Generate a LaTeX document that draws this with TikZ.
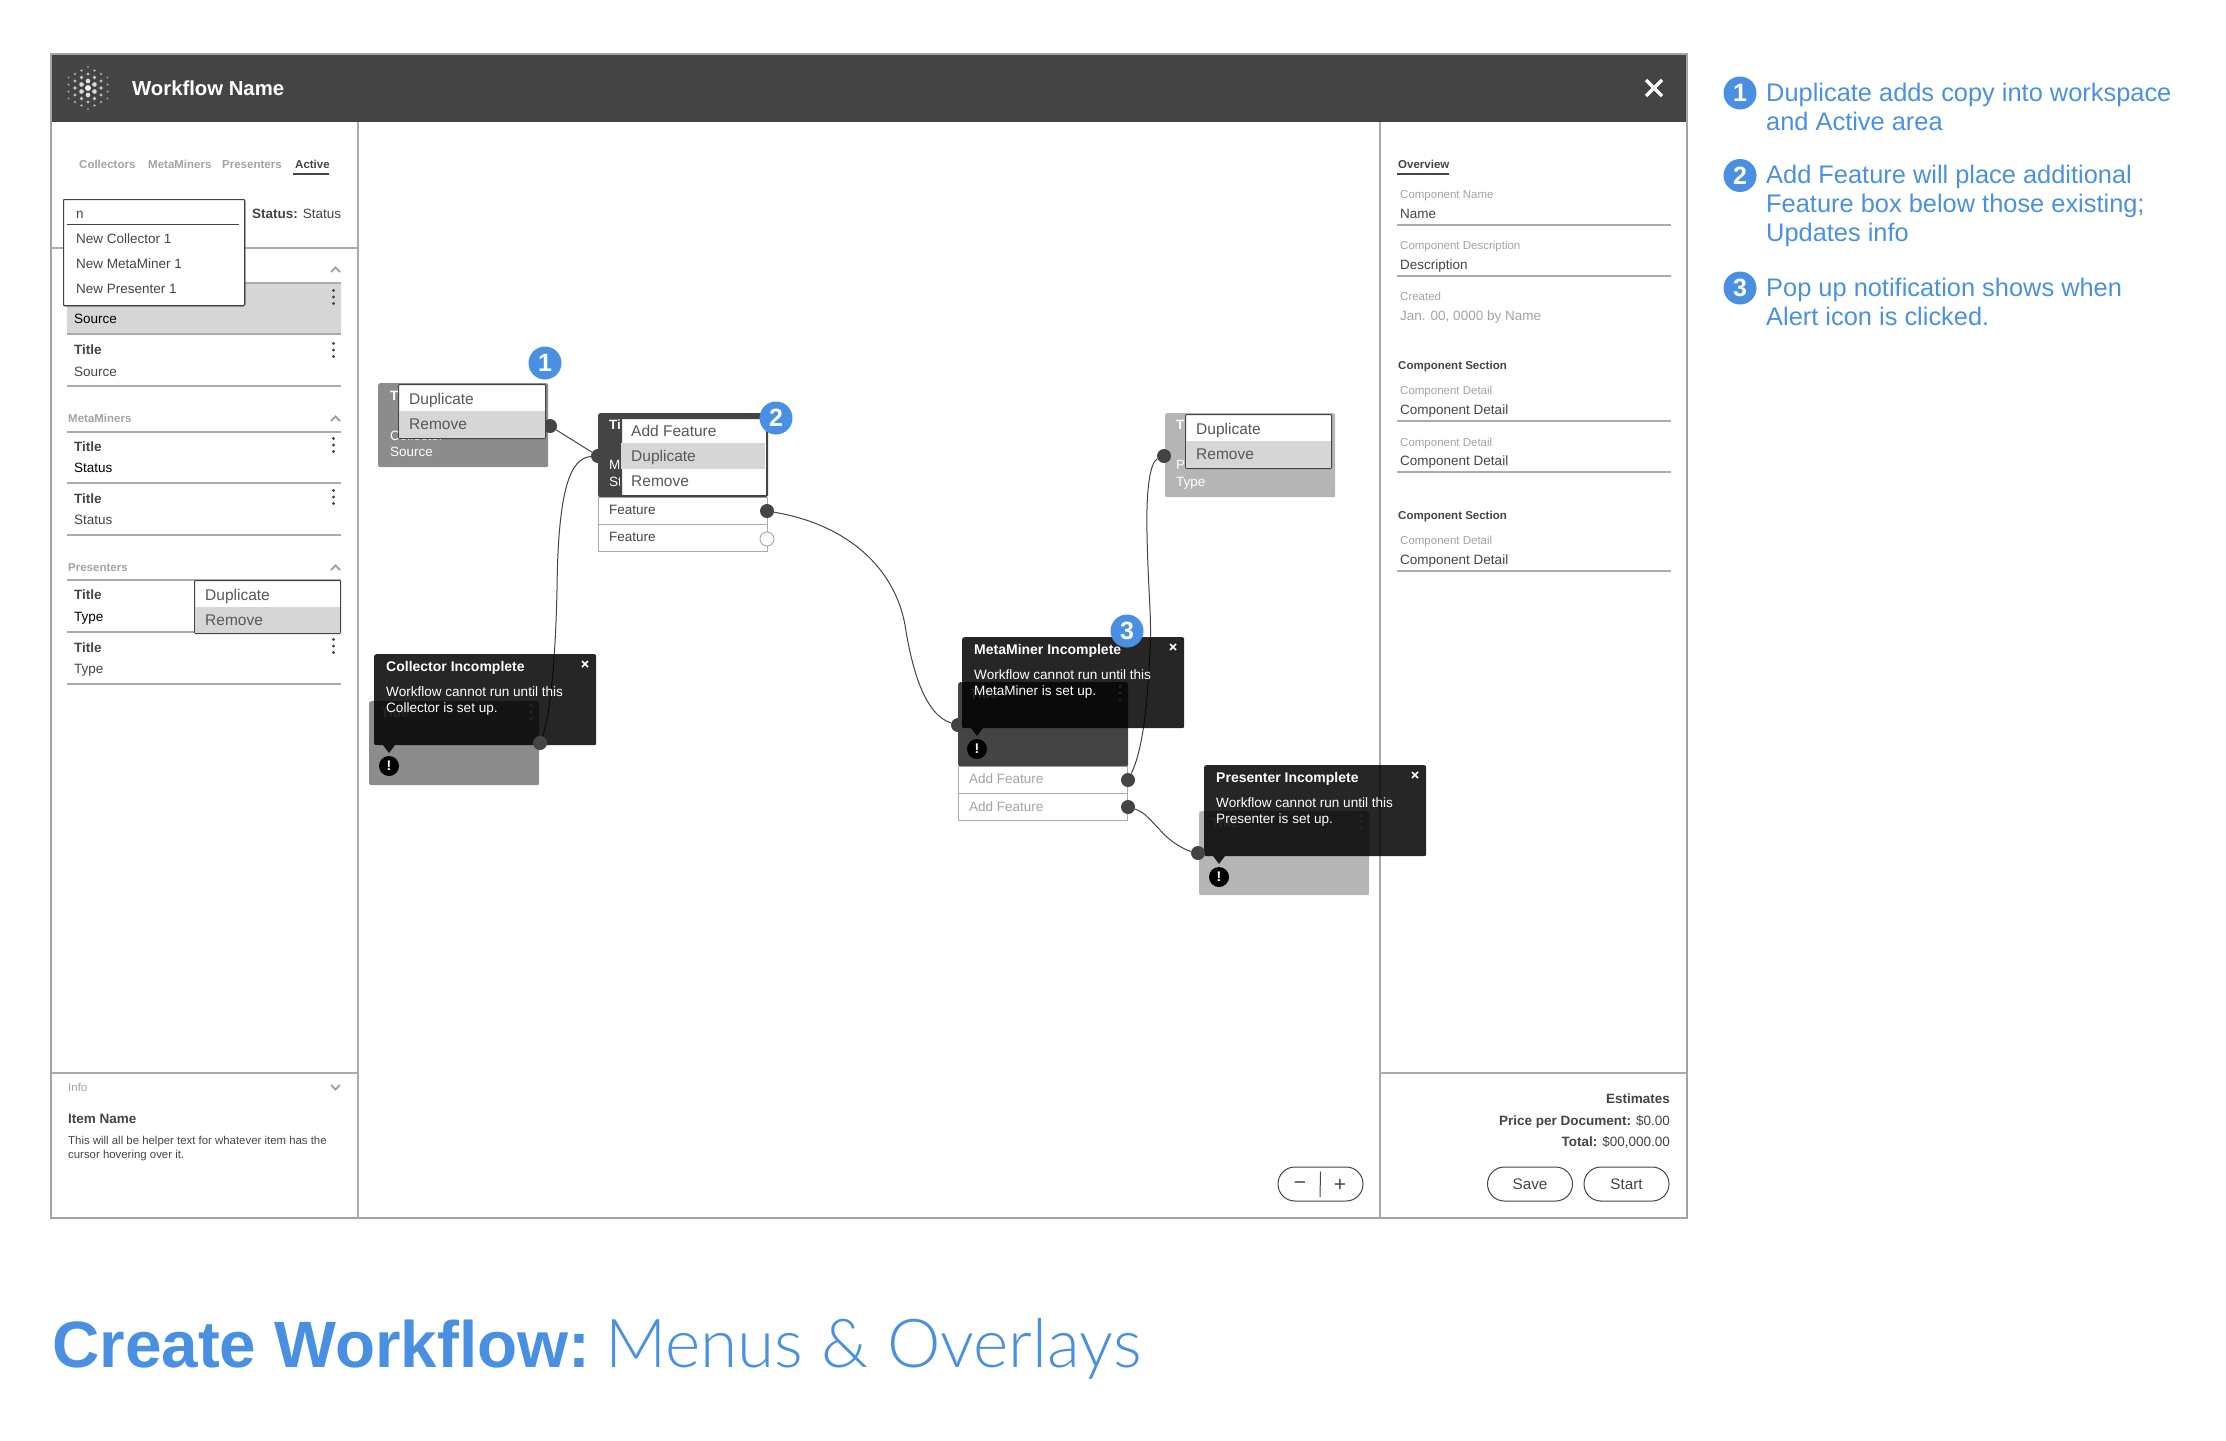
\documentclass[tikz,border=0pt]{standalone}
\usepackage{fontspec}
\setmainfont{Liberation Sans}
\newfontfamily\lightfont{Lato Light}
\definecolor{ink}{HTML}{444444}
\definecolor{mute}{HTML}{A3A3A3}
\definecolor{rule}{HTML}{ABABAB}
\definecolor{band}{HTML}{D6D6D6}
\definecolor{accent}{HTML}{4A90E2}
\definecolor{midbox}{HTML}{8C8C8C}
\definecolor{palebox}{HTML}{B5B5B5}
\pgfdeclarelayer{wires}
\pgfsetlayers{wires,main}
\newcommand{\fs}[1]{\fontsize{#1}{#1}\selectfont}
\newcommand{\kebab}[2]{\foreach \d in {-6.5,0,6.5} \fill[#2] (#1) ++(0pt,\d pt) circle (1.7pt);}
\tikzset{
    lbl/.style={anchor=mid west,inner sep=0pt,yshift=-2.3pt,text=ink,font=\fs{13.5}},
    lblb/.style={lbl,font=\fs{13.5}\bfseries},
    small/.style={lbl,text=mute,font=\fs{11.5}},
    smallb/.style={small,font=\fs{11.5}\bfseries},
    menuitem/.style={lbl,yshift=-0.8pt,text=ink!90,font=\fs{15.5}},
    menubox/.style={draw=ink,line width=1pt,fill=white,anchor=north west,rounded corners=1pt,inner sep=0pt,minimum width=146pt},
    wfbox/.style={anchor=north west,inner sep=0pt,rounded corners=2pt,minimum width=170pt,minimum height=84pt},
    rowbox/.style={draw=rule,line width=1.3pt,fill=white,anchor=north west,inner sep=0pt,minimum width=169pt,minimum height=27pt},
    port/.style={circle,fill=ink,inner sep=0pt,minimum size=14pt},
    wire/.style={draw=ink,line width=1pt},
    sep/.style={draw=rule,line width=1.4pt},
    chevron/.style={draw=mute,line width=1.8pt},
    badge/.style={circle,fill=accent,text=white,inner sep=0pt,minimum size=33pt,font=\fs{25}\bfseries},
    popbox/.style={anchor=north west,fill=black,fill opacity=.85,inner sep=0pt,rounded corners=2pt,minimum width=222pt,minimum height=91pt},
    alert/.style={circle,fill=black,text=white,inner sep=0pt,minimum size=20pt,font=\fs{14}\bfseries},
    pill/.style={draw=ink,line width=1pt,rounded corners=16.9pt,inner sep=0pt,minimum height=34pt,text=ink,font=\fs{15.3}},
    note/.style={anchor=north west,align=left,inner sep=0pt,text=accent,font=\fontsize{25.4}{29}\selectfont},
}
\begin{document}
\begin{tikzpicture}[x=1pt,y=-1pt]
    \useasboundingbox (0,0) rectangle (2226,1440);
    % window
    \fill[ink] (51,54) rectangle (1687,122);
    \draw[draw=mute,line width=2.5pt] (51,54) rectangle (1687,1218);
    \draw[sep] (358,122) -- (358,1218);
    \draw[sep] (1380,122) -- (1380,1218);
    \draw[sep] (51,248) -- (358,248);
    \draw[sep] (51,1073) -- (358,1073);
    \draw[sep] (1380,1073) -- (1687,1073);
    % logo
    \foreach \i in {-3,...,3}
        \foreach \j in {-3,...,3} {
            \pgfmathsetmacro{\lx}{6.5*\i}
            \pgfmathsetmacro{\ly}{7*\j+3.5*mod(abs(\i),2)}
            \pgfmathsetmacro{\ld}{sqrt(\lx*\lx+\ly*\ly)}
            \pgfmathsetmacro{\lr}{max(0.9,2.9-\ld/12)}
            \pgfmathsetmacro{\lo}{max(0.35,1-\ld/40)}
            \ifdim\ld pt<24.5pt
                \fill[white,opacity=\lo] (88+\lx,88+\ly) circle (\lr pt);
            \fi
        }
    \node[anchor=mid west,inner sep=0pt,yshift=-4.4pt,text=white,font=\fs{20.3}\bfseries] (wfname) at (132,88) {Workflow Name};
    \draw[white,line width=3.4pt] (1646,80) -- (1662,96) (1662,80) -- (1646,96);
    % left panel
    \foreach \nm/\tx/\ty in {Collectors/79/164, MetaMiners/148/164, Presenters/222/164}
        \node[smallb] (tab\nm) at (\tx,\ty) {\nm};
    \node[smallb,text=ink] (tabActive) at (295,164) {Active};
    \draw[draw=ink,line width=1.3pt] (293,174) -- (329,174);
    \node[lbl] (status) at (252,214) {\textbf{Status:} Status};
    \fill[band] (67,283) rectangle (341,334);
    \foreach \ry in {283,334,386,432,483,535,580,632,684}
        \draw[sep] (67,\ry) -- (341,\ry);
    \foreach \nm/\ttl/\sub/\ty/\sy/\sc in {srcB/Title/Source/350/372/ink, metaA/Title/Status/447/468/black, metaB/Title/Status/499/520/ink, presA/Title/Type/595/617/black, presB/Title/Type/648/669/ink} {
        \node[lblb] (\nm t) at (74,\ty) {\ttl};
        \node[lbl,text=\sc] (\nm s) at (74,\sy) {\sub};
    }
    \node[lbl,text=black] (srcAs) at (74,319) {Source};
    \node[smallb] (metaHead) at (68,418) {MetaMiners};
    \node[smallb] (presHead) at (68,567) {Presenters};
    \foreach \cy in {269,418,567}
        \draw[chevron] (331,\cy+3) -- (335.5,\cy-1.5) -- (340,\cy+3);
    \foreach \ky in {297,350,445,497,646}
        \kebab{333.5,\ky}{ink}
    % search menu
    \node[menubox,minimum width=181pt,minimum height=106pt] (search) at (63,199) {};
    \draw[draw=ink,line width=1pt] (67,224) -- (239,224);
    \node[lbl] (query) at (76,214) {n};
    \foreach \nm/\ty/\txt in {sa/239/New Collector 1, sb/264/New MetaMiner 1, sc/289/New Presenter 1}
        \node[lbl] (\nm) at (76,\ty) {\txt};
    % presenter item menu
    \node[menubox,minimum height=53pt] (menuSide) at (194,580) {};
    \fill[band] (194.5,607) rectangle (339.5,632.5);
    \node[menuitem] (sideDup) at (205,595) {Duplicate};
    \node[menuitem] (sideRem) at (205,620) {Remove};
    % info
    \node[small] (info) at (68,1087) {Info};
    \draw[chevron] (331,1085) -- (335.5,1089.5) -- (340,1085);
    \node[lblb] (itemName) at (68,1119) {Item Name};
    \node[anchor=north west,align=left,inner sep=0pt,text=ink,font=\fontsize{11.4}{14}\selectfont] (helper) at (68,1136) {This will all be helper text for whatever item has the\\cursor hovering over it.};
    % right panel
    \node[smallb,text=ink] (overview) at (1398,164) {Overview};
    \draw[draw=ink,line width=1.3pt] (1397,174) -- (1449,174);
    \foreach \nm/\lab/\val/\ly/\vy/\ry in {fa/Component Name/Name/194/213.5/225, fb/Component Description/Description/245/265/276, fc/Component Detail/Component Detail/390/410/421, fd/Component Detail/Component Detail/442/461/472, fe/Component Detail/Component Detail/540/560/571} {
        \node[small] (\nm l) at (1400,\ly) {\lab};
        \node[lbl] (\nm v) at (1400,\vy) {\val};
        \draw[sep] (1397,\ry) -- (1671,\ry);
    }
    \node[small] (created) at (1400,296) {Created};
    \node[lbl,text=mute] (createdBy) at (1400,316) {Jan. 00, 0000 by Name};
    \node[smallb,text=ink] (secA) at (1398,365) {Component Section};
    \node[smallb,text=ink] (secB) at (1398,515) {Component Section};
    \node[lblb,anchor=mid east] (estimates) at (1670,1099) {Estimates};
    \node[lbl,anchor=mid east] (price) at (1670,1121) {\textbf{Price per Document:} \$0.00};
    \node[lbl,anchor=mid east] (total) at (1670,1142) {\textbf{Total:} \$00,000.00};
    \node[pill,minimum width=85pt] (save) at (1530,1184) {Save};
    \node[pill,minimum width=85pt] (start) at (1626.5,1184) {Start};
    \node[pill,minimum width=85pt] (zoom) at (1320.5,1184) {};
    \draw[draw=ink,line width=1pt] (zoom.north) ++(0,5) -- (1320,1197);
    \node[lbl,anchor=center,yshift=1pt,font=\fs{21}] (minus) at (1300,1184) {−};
    \node[lbl,anchor=center,yshift=1pt,font=\fs{21}] (plus) at (1340,1184) {+};
    % workflow nodes
    \node[wfbox,fill=midbox] (collA) at (378,383) {};
    \node[wfbox,fill=ink,minimum width=169pt] (metaA) at (598,413) {};
    \node[wfbox,fill=palebox] (presA) at (1165,413) {};
    \foreach \nm/\tx/\ty/\ttl/\kind/\sub/\ky/\sy in {collA/390/396/Title/Collector/Source/436/452, metaA/609/425/Title/MetaMiner/Status/465/482, presA/1176/425/Title/Presenter/Type/465/482} {
        \node[lblb,text=white] (\nm t) at (\tx,\ty) {\ttl};
        \node[lbl,text=white] (\nm k) at (\tx,\ky) {\kind};
        \node[lbl,text=white] (\nm s) at (\tx,\sy) {\sub};
    }
    \node[rowbox] (rowA) at (598,497) {};
    \node[rowbox] (rowB) at (598,524) {};
    \node[lbl] (rowAt) at (609,510) {Feature};
    \node[lbl] (rowBt) at (609,537) {Feature};
    \node[rowbox] (rowC) at (958,766) {};
    \node[rowbox] (rowD) at (958,793) {};
    \node[lbl,text=mute] (rowCt) at (969,779) {Add Feature};
    \node[lbl,text=mute] (rowDt) at (969,807) {Add Feature};
    % incomplete nodes
    \foreach \nm/\bx/\by/\bc in {collB/369/701/midbox, metaB/958/682/ink, presB/1199/811/palebox} {
        \node[wfbox,fill=\bc] (\nm) at (\bx,\by) {};
        \node[lblb,text=white] (\nm t) at (\bx+12,\by+12) {Title};
        \kebab{\bx+162,\by+11}{white}
    }
    % ports
    \node[port] (outA) at (550,426) {};
    \node[port] (inM) at (598,456) {};
    \node[port] (outF) at (767,511) {};
    \node[port,fill=white,draw=rule,line width=1pt] (outG) at (767,539) {};
    \node[port] (inMB) at (958,725) {};
    \node[port] (outC) at (1128,780) {};
    \node[port] (outD) at (1128,807) {};
    \node[port] (inP) at (1164,456) {};
    % item menus
    \node[menubox,minimum width=147pt,minimum height=54pt] (menuA) at (398,384) {};
    \fill[band] (398.5,411) rectangle (544.5,437.5);
    \node[menuitem] (menuAa) at (409,399) {Duplicate};
    \node[menuitem] (menuAb) at (409,424) {Remove};
    \node[menubox,draw=ink,line width=2pt,minimum width=146pt,minimum height=78pt] (menuB) at (620,417) {};
    \fill[band] (621,443) rectangle (765,469);
    \node[menuitem] (menuBa) at (631,431) {Add Feature};
    \node[menuitem] (menuBb) at (631,456) {Duplicate};
    \node[menuitem] (menuBc) at (631,481) {Remove};
    \node[menubox,minimum width=146pt,minimum height=54pt] (menuC) at (1185,414) {};
    \fill[band] (1185.5,441) rectangle (1330.5,467.5);
    \node[menuitem] (menuCa) at (1196,429) {Duplicate};
    \node[menuitem] (menuCb) at (1196,454) {Remove};
    % popups
    \foreach \nm/\px/\py/\kind in {coll/374/654/Collector, meta/962/637/MetaMiner, pres/1204/765/Presenter} {
        \node[popbox] (pop\nm) at (\px,\py) {};
        \fill[black,fill opacity=.85] (\px+9,\py+91) -- (\px+21,\py+91) -- (\px+15,\py+99) -- cycle;
        \node[alert] (alert\nm) at (\px+15,\py+112) {!};
        \node[lblb,text=white,font=\fs{14}\bfseries] (pop\nm t) at (\px+12,\py+12.5) {\kind\ Incomplete};
        \node[lbl,text=white,anchor=north west,align=left,font=\fontsize{13.55}{16}\selectfont] (pop\nm b) at (\px+12,\py+30) {Workflow cannot run until this\\\kind\ is set up.};
        \draw[white,line width=1.6pt] (\px+208,\py+7) -- (\px+214,\py+13) (\px+214,\py+7) -- (\px+208,\py+13);
    }
    % ports above the popups
    \node[port] (outB) at (540,743) {};
    \node[port] (inQ) at (1198,853) {};
    % wires
    \begin{pgfonlayer}{wires}
        \draw[wire] (outA) -- (inM);
        \draw[wire] (inM) .. controls (570,458) and (558,490) .. (557,590) .. controls (556,640) and (552,710) .. (outB);
        \draw[wire] (outF) .. controls (850,525) and (895,570) .. (905,625) .. controls (912,670) and (925,715) .. (inMB);
        \draw[wire] (inP) .. controls (1150,462) and (1146,490) .. (1147,533) .. controls (1148,590) and (1152,620) .. (1150,650) .. controls (1148,700) and (1143,750) .. (outC);
        \draw[wire] (outD) .. controls (1145,812) and (1152,822) .. (1160,830) .. controls (1170,842) and (1185,850) .. (inQ);
    \end{pgfonlayer}
    % badges
    \node[badge] (badgeA) at (545,363) {1};
    \node[badge] (badgeB) at (776,418) {2};
    \node[badge] (badgeC) at (1127,631) {3};
    % notes
    \node[badge] (keyA) at (1740,93) {1};
    \node[badge] (keyB) at (1740,175.5) {2};
    \node[badge] (keyC) at (1740,288) {3};
    \node[note] (noteA) at (1766,83) {Duplicate adds copy into workspace\\and Active area};
    \node[note] (noteB) at (1766,164.5) {Add Feature will place additional\\Feature box below those existing;\\Updates info};
    \node[note] (noteC) at (1766,277.5) {Pop up notification shows when\\Alert icon is clicked.};
    % title
    \node[anchor=base west,inner sep=0pt,text=accent,font=\fs{65.6}\bfseries] (titleA) at (52,1367) {Create Workflow:};
    \node[anchor=base west,inner sep=0pt,text=accent,font=\fs{67.5}\lightfont] (titleB) at (605,1367) {Menus \& Overlays};
\end{tikzpicture}
\end{document}
